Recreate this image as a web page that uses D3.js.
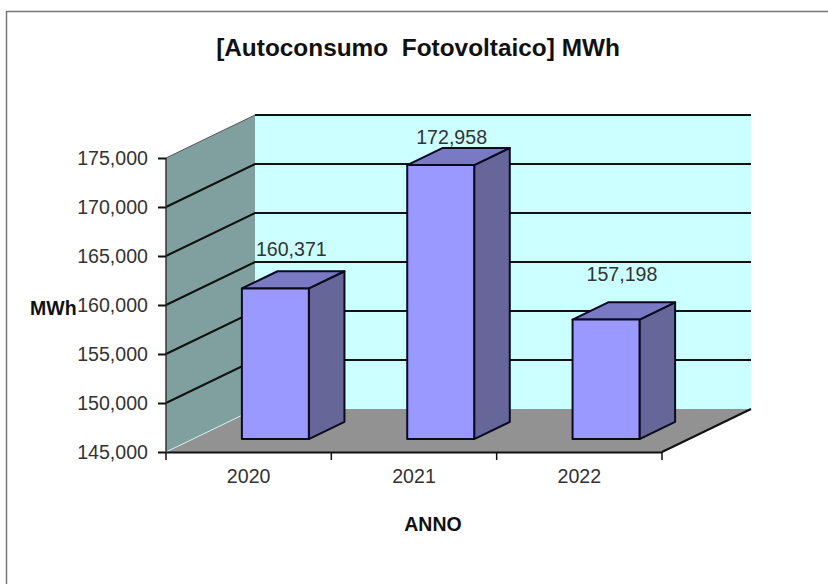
<!DOCTYPE html>
<meta charset="utf-8">
<style>
    html, body {
        margin: 0;
        background-color: #fff;
    }

    svg {
        display: block;
    }

    text {
        font-family: "Liberation Sans", Arial, sans-serif;
        fill: #333;
        white-space: pre;
    }

    .tick-label {
        font-size: 19.6px;
    }

    .title {
        font-size: 24.4px;
        font-weight: bold;
        fill: #111;
    }

    .axis-title {
        font-size: 19.5px;
        font-weight: bold;
        fill: #111;
    }

    .grid {
        fill: none;
        stroke: #111;
        stroke-width: 2px;
    }

    .bar-edge {
        stroke: #0a0a20;
        stroke-width: 2px;
        stroke-linejoin: round;
    }
</style>

<body>
    <svg width="828" height="584"></svg>
</body>
<script src="https://d3js.org/d3.v7.min.js"></script>
<script>
    var years = ["2020", "2021", "2022"];
    var values = [160371, 172958, 157198];
    var yTicks = [145000, 150000, 155000, 160000, 165000, 170000, 175000];

    var svg = d3.select("svg");

    // front plane of the 3d box
    var x = d3.scaleBand().domain(years).range([166, 662]);
    var y = d3.scaleLinear().domain([145000, 175000]).range([452, 158]);

    // depth goes from 0 (front) to 1 (back wall)
    var depthX = d3.scaleLinear().domain([0, 1]).range([0, 89]);
    var depthY = d3.scaleLinear().domain([0, 1]).range([0, -43]);

    var barFront = 0.3,
        barBack = 0.7,
        barShare = 0.405;

    var fmt = d3.format(",");

    function pt(px, py, depth) {
        return [px + depthX(depth), py + depthY(depth)];
    }

    function poly(points) {
        return d3.line()(points) + "Z";
    }

    var xLeft = x.range()[0],
        xRight = x.range()[1],
        yBase = y.domain()[0],
        yMax = y.domain()[1];

    // chart frame
    svg.append("rect")
        .attr("x", 6.5)
        .attr("y", 11.5)
        .attr("width", 830)
        .attr("height", 600)
        .attr("fill", "#fff")
        .attr("stroke", "#777")
        .attr("stroke-width", 1.5);

    // walls and floor
    svg.append("path")
        .attr("d", poly([pt(xLeft, y(yBase), 1), pt(xRight, y(yBase), 1), pt(xRight, y(yMax), 1), pt(xLeft, y(yMax), 1)]))
        .attr("fill", "#ccffff");

    svg.append("path")
        .attr("d", poly([pt(xLeft, y(yBase), 0), pt(xLeft, y(yBase), 1), pt(xLeft, y(yMax), 1), pt(xLeft, y(yMax), 0)]))
        .attr("fill", "#80a0a0");

    svg.append("path")
        .attr("d", poly([pt(xLeft, y(yBase), 0), pt(xRight, y(yBase), 0), pt(xRight, y(yBase), 1), pt(xLeft, y(yBase), 1)]))
        .attr("fill", "#929292");

    svg.append("path")
        .attr("d", d3.line()([pt(xLeft, y(yBase), 0), pt(xLeft, y(yBase), 1)]))
        .attr("stroke", "#cfeeee")
        .attr("stroke-width", 1)
        .attr("fill", "none");

    // top edge of the side wall is thinner than the gridlines
    svg.append("path")
        .attr("d", d3.line()([pt(xLeft, y(yMax), 0), pt(xLeft, y(yMax), 1)]))
        .attr("stroke", "#555")
        .attr("stroke-width", 1)
        .attr("fill", "none");

    // gridlines run along the side wall then the back wall
    svg.selectAll(".grid")
        .data(yTicks.slice(1, -1))
        .enter().append("path")
        .attr("class", "grid")
        .attr("d", function(d) {
            return d3.line()([pt(xLeft, y(d), 0), pt(xLeft, y(d), 1), pt(xRight, y(d), 1)]);
        });

    svg.append("path")
        .attr("class", "grid")
        .attr("d", d3.line()([pt(xLeft, y(yMax), 1), pt(xRight, y(yMax), 1)]));

    // bars
    var bars = svg.selectAll(".bar")
        .data(years)
        .enter().append("g")
        .attr("class", "bar");

    function barX0(d) {
        return x(d) + x.bandwidth() * (1 - barShare) / 2;
    }

    function barX1(d) {
        return barX0(d) + x.bandwidth() * barShare;
    }

    function barTop(d, i) {
        return y(values[i]);
    }

    bars.append("path")
        .attr("class", "bar-edge")
        .attr("fill", "#666699")
        .attr("d", function(d, i) {
            return poly([pt(barX1(d), y(yBase), barFront), pt(barX1(d), y(yBase), barBack),
                pt(barX1(d), barTop(d, i), barBack), pt(barX1(d), barTop(d, i), barFront)]);
        });

    bars.append("path")
        .attr("class", "bar-edge")
        .attr("fill", "#7a7ac4")
        .attr("d", function(d, i) {
            return poly([pt(barX0(d), barTop(d, i), barFront), pt(barX1(d), barTop(d, i), barFront),
                pt(barX1(d), barTop(d, i), barBack), pt(barX0(d), barTop(d, i), barBack)]);
        });

    bars.append("path")
        .attr("class", "bar-edge")
        .attr("fill", "#9999ff")
        .attr("d", function(d, i) {
            return poly([pt(barX0(d), y(yBase), barFront), pt(barX1(d), y(yBase), barFront),
                pt(barX1(d), barTop(d, i), barFront), pt(barX0(d), barTop(d, i), barFront)]);
        });

    // value labels
    var labelOffset = {
        "2020": [14, -32],
        "2021": [9, -21],
        "2022": [14, -39]
    };

    bars.append("text")
        .attr("class", "tick-label")
        .attr("x", function(d) {
            return barX0(d) + depthX(barFront) + labelOffset[d][0];
        })
        .attr("y", function(d, i) {
            return barTop(d, i) + depthY(barFront) + labelOffset[d][1];
        })
        .text(function(d, i) {
            return fmt(values[i]);
        });

    // axes
    var yAxis = d3.axisLeft(y).tickValues(yTicks).tickFormat(fmt).tickSize(8).tickPadding(10);
    var xAxis = d3.axisBottom(x).tickSize(0).tickPadding(17);

    var gy = svg.append("g")
        .attr("transform", "translate(" + xLeft + ",0)")
        .call(yAxis);

    var gx = svg.append("g")
        .attr("transform", "translate(0," + y(yBase) + ")")
        .call(xAxis);

    [gy, gx].forEach(function(g) {
        g.selectAll("path, line").attr("stroke", "#111").attr("stroke-width", 2);
        g.selectAll("text").attr("class", "tick-label").attr("font-family", null).attr("font-size", null).attr("fill", null);
    });
    gy.select(".domain").attr("d", d3.line()([[0, y(yBase)], [0, y(yMax)]])).attr("stroke", "#333").attr("stroke-width", 1.5);

    // category separators on the x axis
    gx.selectAll(".sep")
        .data(years.concat("end"))
        .enter().append("line")
        .attr("class", "sep")
        .attr("x1", function(d, i) { return xLeft + i * x.step(); })
        .attr("x2", function(d, i) { return xLeft + i * x.step(); })
        .attr("y1", 0)
        .attr("y2", 8)
        .attr("stroke", "#111")
        .attr("stroke-width", 1.5);

    // right edge of the floor
    svg.append("path")
        .attr("d", d3.line()([pt(xRight, y(yBase), 0), pt(xRight, y(yBase), 1)]))
        .attr("stroke", "#111")
        .attr("stroke-width", 2);

    svg.append("text")
        .attr("class", "title")
        .attr("x", 418)
        .attr("y", 56)
        .attr("text-anchor", "middle")
        .text("[Autoconsumo  Fotovoltaico] MWh");

    svg.append("text")
        .attr("class", "axis-title")
        .attr("x", 433)
        .attr("y", 531)
        .attr("text-anchor", "middle")
        .text("ANNO");

    svg.append("text")
        .attr("class", "axis-title")
        .attr("x", 30)
        .attr("y", 315)
        .text("MWh");
</script>
